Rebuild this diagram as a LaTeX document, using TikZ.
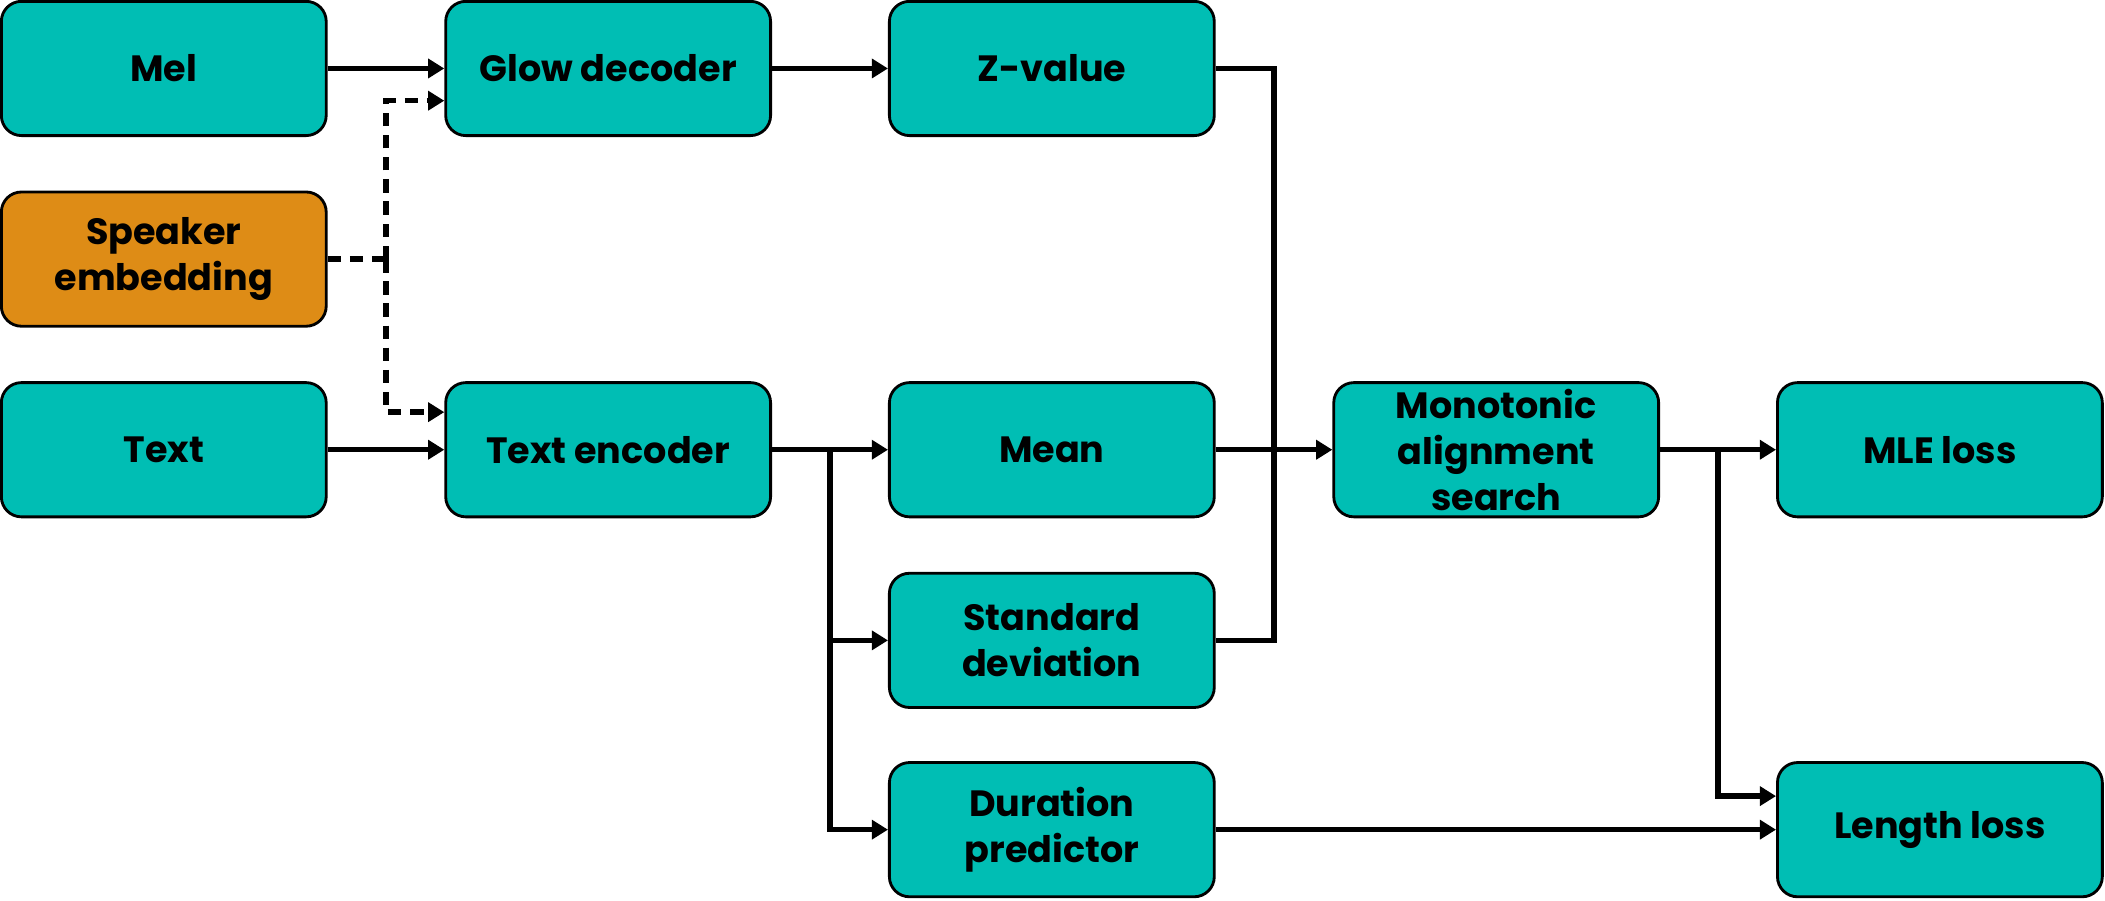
\documentclass[tikz,border=0pt]{standalone}
\usepackage{fontspec}
\setmainfont{Poppins}
\usepackage{tikz}
\usetikzlibrary{arrows.meta, calc, positioning}
\definecolor{tealbox}{RGB}{0,190,180}
\definecolor{orangebox}{RGB}{222,140,22}

\begin{document}
\begin{tikzpicture}[
    every node/.style={font=\bfseries\fontsize{15.5}{19.5}\selectfont, align=center},
    box/.style={draw, line width=1.2pt, rounded corners=0.3cm, fill=tealbox, minimum width=4.84cm, minimum height=2cm, inner sep=0pt},
    arr/.style={line width=2.3pt, -{Triangle[length=2.4mm,width=2.8mm]}},
    link/.style={line width=2.3pt},
    dashes/.style={dash pattern=on 0.2cm off 0.13cm}
  ]
  \useasboundingbox (0,0) rectangle (31.36,-13.42);

  % inputs
  \node[box] (mel) at (2.44,-1.02) {Mel};
  \node[box, fill=orangebox] (speaker) at (2.44,-3.86) {Speaker\\embedding};
  \node[box] (text) at (2.44,-6.70) {Text};

  \node[box] (glow) at (9.06,-1.02) {Glow decoder};
  \node[box] (textenc) at (9.06,-6.70) {Text encoder};

  \node[box] (zval) at (15.67,-1.02) {Z-value};
  \node[box] (mean) at (15.67,-6.70) {Mean};
  \node[box] (std) at (15.67,-9.54) {Standard\\deviation};
  \node[box] (dur) at (15.67,-12.36) {Duration\\predictor};

  \node[box] (mas) at (22.29,-6.70) {Monotonic\\alignment\\search};
  \node[box] (mle) at (28.90,-6.70) {MLE loss};
  \node[box] (len) at (28.90,-12.36) {Length loss};

  % junctions
  \coordinate (sj) at ($(speaker.east)!0.5!(speaker.east -| glow.west)$);
  \coordinate (tj) at ($(textenc.east)!0.5!(mean.west)$);
  \coordinate (zj) at ($(zval.east)!0.5!(zval.east -| mas.west)$);
  \coordinate (mj) at ($(mas.east)!0.5!(mle.west)$);

  \draw[arr] (mel.east) -- (glow.west);
  \draw[arr] (glow.east) -- (zval.west);
  \draw[arr] (text.east) -- (textenc.west);

  % speaker conditioning
  \draw[link, dashes] (speaker.east) -- (sj);
  \draw[arr, dashes] (sj) |- ([yshift=-0.48cm]glow.west);
  \draw[arr, dashes] (sj) |- ([yshift=0.56cm]textenc.west);

  \draw[arr] (textenc.east) -- (mean.west);
  \draw[arr] (tj) |- (std.west);
  \draw[arr] (tj) |- (dur.west);

  \draw[link] (zval.east) -- (zj) |- (std.east);
  \draw[arr] (mean.east) -- (mas.west);

  \draw[arr] (mas.east) -- (mle.west);
  \draw[arr] (mj) |- ([yshift=0.5cm]len.west);
  \draw[arr] (dur.east) -- (len.west);
\end{tikzpicture}
\end{document}
